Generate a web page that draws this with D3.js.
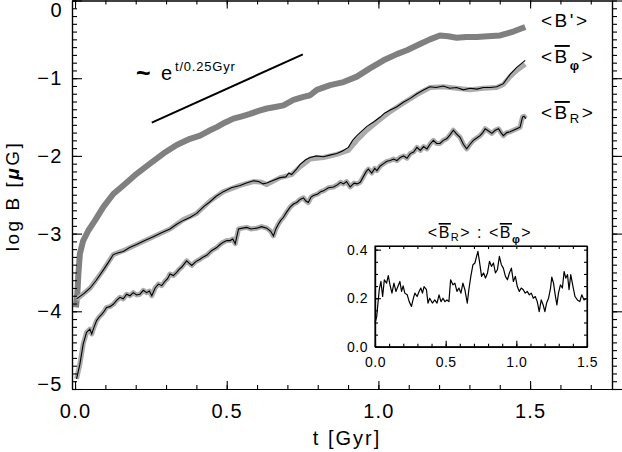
<!DOCTYPE html>
<html>
<head>
<meta charset="utf-8">
<script src="https://cdn.jsdelivr.net/npm/d3@7"></script>
<style>
  body { margin: 0; background: #fff; }
  text { font-family: "Liberation Sans", Arial, Helvetica, sans-serif; fill: #000; }
</style>
</head>
<body>
<svg id="chart" width="622" height="452"></svg>
<script>
// <B'> (thick grey curve)
const tPrime = [0.003,0.008,0.011,0.016,0.027,0.044,0.066,0.093,0.126,0.159,0.203,0.247,0.291,0.335,0.379,0.412,0.44,0.467,0.495,0.522,0.55,0.577,0.605,0.632,0.66,0.687,0.72,0.753,0.775,0.797,0.841,0.885,0.929,0.973,1.017,1.061,1.094,1.137,1.17,1.203,1.23,1.258,1.29,1.324,1.36,1.401,1.445,1.484];
const bPrime = [-3.95,-3.75,-3.52,-3.26,-3.09,-2.96,-2.83,-2.66,-2.49,-2.38,-2.23,-2.1,-1.97,-1.86,-1.78,-1.74,-1.68,-1.63,-1.57,-1.52,-1.49,-1.46,-1.42,-1.39,-1.37,-1.35,-1.28,-1.24,-1.22,-1.15,-1.09,-1.05,-0.98,-0.87,-0.77,-0.69,-0.64,-0.56,-0.5,-0.45,-0.46,-0.48,-0.47,-0.47,-0.46,-0.45,-0.4,-0.34];

// <B_phi> grey band and thin black line
const tPhiBand = [0.005,0.05,0.093,0.126,0.159,0.203,0.258,0.313,0.357,0.401,0.445,0.489,0.544,0.588,0.615,0.632,0.676,0.714,0.742,0.775,0.819,0.863,0.901,0.929,0.962,1.006,1.039,1.082,1.127,1.17,1.214,1.258,1.302,1.346,1.39,1.412,1.434,1.456,1.484];
const bPhiBand = [-3.85,-3.7,-3.47,-3.27,-3.22,-3.14,-3.04,-2.94,-2.82,-2.74,-2.58,-2.46,-2.38,-2.33,-2.34,-2.37,-2.28,-2.24,-2.14,-2.04,-2.02,-1.98,-1.93,-1.8,-1.67,-1.53,-1.43,-1.32,-1.21,-1.12,-1.11,-1.13,-1.15,-1.13,-1.12,-1.08,-0.98,-0.9,-0.82];
const tPhiLine = [0.005,0.03,0.05,0.07,0.093,0.11,0.126,0.14,0.159,0.18,0.203,0.23,0.258,0.285,0.313,0.335,0.357,0.38,0.401,0.425,0.445,0.465,0.489,0.515,0.544,0.565,0.588,0.605,0.62,0.632,0.65,0.676,0.695,0.705,0.714,0.73,0.742,0.76,0.775,0.795,0.819,0.84,0.863,0.88,0.901,0.915,0.929,0.945,0.962,0.985,1.006,1.02,1.039,1.06,1.082,1.105,1.127,1.15,1.17,1.19,1.214,1.235,1.258,1.28,1.302,1.325,1.346,1.37,1.39,1.412,1.434,1.456,1.484];
const bPhiLine = [-3.84,-3.77,-3.7,-3.6,-3.47,-3.37,-3.27,-3.25,-3.23,-3.18,-3.14,-3.09,-3.04,-2.99,-2.94,-2.88,-2.83,-2.79,-2.74,-2.65,-2.59,-2.52,-2.46,-2.41,-2.38,-2.35,-2.32,-2.33,-2.36,-2.35,-2.32,-2.28,-2.27,-2.22,-2.24,-2.17,-2.11,-2.05,-2.02,-2.0,-2.01,-1.99,-1.97,-1.94,-1.89,-1.8,-1.74,-1.68,-1.62,-1.56,-1.5,-1.45,-1.41,-1.37,-1.31,-1.26,-1.2,-1.15,-1.11,-1.12,-1.1,-1.13,-1.12,-1.15,-1.13,-1.14,-1.12,-1.12,-1.11,-1.07,-0.95,-0.86,-0.77];

// <B_R>
const tR = [0.005,0.016,0.027,0.038,0.049,0.055,0.063,0.071,0.08,0.088,0.096,0.104,0.115,0.126,0.137,0.148,0.159,0.17,0.181,0.192,0.203,0.214,0.225,0.236,0.245,0.253,0.264,0.275,0.286,0.297,0.305,0.313,0.324,0.335,0.343,0.352,0.36,0.368,0.376,0.385,0.398,0.412,0.423,0.434,0.45,0.467,0.478,0.489,0.5,0.511,0.52,0.528,0.539,0.552,0.566,0.58,0.599,0.615,0.632,0.645,0.654,0.662,0.67,0.678,0.687,0.698,0.709,0.72,0.731,0.742,0.753,0.761,0.769,0.778,0.786,0.8,0.81,0.819,0.835,0.852,0.866,0.875,0.885,0.895,0.907,0.92,0.93,0.94,0.95,0.96,0.967,0.978,0.988,0.995,1.006,1.017,1.028,1.039,1.05,1.061,1.072,1.083,1.094,1.105,1.116,1.127,1.138,1.149,1.16,1.17,1.181,1.192,1.203,1.214,1.225,1.236,1.247,1.258,1.269,1.28,1.291,1.302,1.313,1.324,1.335,1.344,1.352,1.363,1.374,1.385,1.396,1.404,1.412,1.423,1.434,1.445,1.456,1.467,1.475,1.48,1.486];
const bR = [-4.87,-4.68,-4.42,-4.27,-4.23,-4.29,-4.2,-4.12,-4.07,-4.04,-4.0,-3.95,-3.94,-3.91,-3.86,-3.82,-3.84,-3.78,-3.8,-3.76,-3.79,-3.78,-3.73,-3.76,-3.74,-3.8,-3.7,-3.65,-3.67,-3.61,-3.58,-3.52,-3.54,-3.5,-3.46,-3.43,-3.39,-3.35,-3.38,-3.41,-3.36,-3.33,-3.3,-3.28,-3.22,-3.18,-3.14,-3.11,-3.09,-3.09,-3.07,-3.13,-2.94,-2.93,-2.92,-2.94,-2.93,-2.91,-2.93,-2.97,-3.03,-2.94,-2.88,-2.83,-2.79,-2.72,-2.66,-2.62,-2.6,-2.56,-2.54,-2.58,-2.6,-2.53,-2.51,-2.49,-2.46,-2.45,-2.41,-2.4,-2.37,-2.34,-2.36,-2.33,-2.4,-2.35,-2.36,-2.34,-2.27,-2.2,-2.17,-2.22,-2.16,-2.19,-2.13,-2.1,-2.07,-2.06,-2.04,-2.06,-2.02,-2.0,-2.03,-1.97,-1.95,-1.89,-1.93,-1.88,-1.91,-1.85,-1.8,-1.84,-1.84,-1.8,-1.78,-1.73,-1.67,-1.72,-1.76,-1.85,-1.91,-1.85,-1.8,-1.77,-1.74,-1.7,-1.65,-1.68,-1.71,-1.67,-1.65,-1.7,-1.74,-1.7,-1.69,-1.67,-1.65,-1.63,-1.5,-1.49,-1.52];

// inset: <B_R> : <B_phi>
const tRatio = [0,0.012,0.03,0.042,0.054,0.066,0.082,0.094,0.106,0.12,0.134,0.148,0.162,0.176,0.188,0.199,0.211,0.228,0.242,0.258,0.27,0.282,0.298,0.312,0.324,0.336,0.347,0.364,0.375,0.387,0.406,0.423,0.439,0.453,0.467,0.481,0.495,0.509,0.523,0.535,0.551,0.565,0.58,0.594,0.608,0.622,0.636,0.653,0.664,0.678,0.693,0.707,0.716,0.728,0.739,0.754,0.768,0.782,0.796,0.81,0.824,0.838,0.852,0.866,0.88,0.894,0.908,0.923,0.937,0.951,0.965,0.979,0.993,1.007,1.021,1.035,1.049,1.063,1.077,1.092,1.106,1.12,1.134,1.148,1.162,1.176,1.19,1.202,1.214,1.228,1.242,1.251,1.263,1.275,1.287,1.298,1.312,1.326,1.338,1.35,1.362,1.373,1.385,1.401,1.415,1.432,1.449,1.463,1.479,1.491];
const ratio = [0.097,0.124,0.235,0.269,0.207,0.276,0.262,0.293,0.255,0.221,0.262,0.228,0.248,0.269,0.228,0.251,0.221,0.214,0.186,0.166,0.196,0.221,0.207,0.228,0.242,0.221,0.248,0.235,0.18,0.2,0.18,0.193,0.18,0.214,0.186,0.2,0.186,0.193,0.186,0.276,0.255,0.262,0.228,0.242,0.221,0.262,0.235,0.18,0.235,0.29,0.338,0.345,0.366,0.393,0.352,0.29,0.304,0.283,0.304,0.352,0.331,0.345,0.304,0.317,0.372,0.338,0.324,0.29,0.276,0.304,0.324,0.269,0.29,0.248,0.228,0.242,0.235,0.221,0.228,0.214,0.221,0.2,0.207,0.186,0.145,0.193,0.172,0.145,0.18,0.2,0.242,0.287,0.262,0.214,0.172,0.221,0.255,0.242,0.31,0.283,0.297,0.235,0.297,0.248,0.207,0.193,0.186,0.214,0.193,0.197];

// reference slope ~ e^(t/0.25Gyr)
const slopeT = [0.253, 0.751];
const slopeB = [-1.571, -0.694];

const xMajor = [0, 0.5, 1.0, 1.5];
const yMajor = [-5, -4, -3, -2, -1, 0];
const insetXMajor = [0, 0.5, 1.0, 1.5];
const insetYMajor = [0, 0.2, 0.4];

const svg = d3.select("#chart");
const x = d3.scaleLinear().domain([-0.01, 1.77]).range([72, 612]);
const y = d3.scaleLinear().domain([-5, 0]).range([389, 0.5]);

const pts = (ts, vs) => ts.map((t, i) => ({t: t, v: vs[i]}));
const line = d3.line().x(d => x(d.t)).y(d => y(d.v));

// curves
svg.append("path").datum(pts(tPrime, bPrime)).attr("d", line)
    .attr("fill", "none").attr("stroke", "#808080").attr("stroke-width", 6)
    .attr("stroke-linejoin", "round").attr("stroke-linecap", "butt");

svg.append("path").datum(pts(tPhiBand, bPhiBand)).attr("d", line)
    .attr("fill", "none").attr("stroke", "#ababab").attr("stroke-width", 5)
    .attr("stroke-linejoin", "round");
svg.append("path").datum(pts(tPhiLine, bPhiLine)).attr("d", line)
    .attr("fill", "none").attr("stroke", "#000").attr("stroke-width", 1.1);

svg.append("path").datum(pts(tR, bR)).attr("d", line)
    .attr("fill", "none").attr("stroke", "#ababab").attr("stroke-width", 5)
    .attr("stroke-linejoin", "round");
svg.append("path").datum(pts(tR, bR)).attr("d", line)
    .attr("fill", "none").attr("stroke", "#000").attr("stroke-width", 1.1);

// slope line and its label
svg.append("path").datum(pts(slopeT, slopeB)).attr("d", line)
    .attr("fill", "none").attr("stroke", "#000").attr("stroke-width", 2);
svg.append("text").attr("x", 136).attr("y", 82).attr("font-size", 25)
    .attr("font-weight", "bold").text("~");
svg.append("text").attr("x", 161).attr("y", 80).attr("font-size", 20).text("e");
svg.append("text").attr("x", 175).attr("y", 71).attr("font-size", 13)
    .attr("letter-spacing", 0.8).text("t/0.25Gyr");

// main axes
function styleAxis(g) {
  g.selectAll("path.domain").attr("stroke", "#000").attr("stroke-width", 1.2);
  g.selectAll(".tick line").attr("stroke", "#000").attr("stroke-width", 1.1);
  g.selectAll("text").attr("font-family", null);
}
const xMinor = d3.range(0, 1.75, 0.1);
const yMinor = d3.range(-5, 0.01, 0.1);

const gx = svg.append("g").attr("transform", "translate(0,389)")
    .call(d3.axisBottom(x).tickValues(xMajor).tickSize(-8).tickSizeOuter(0)
      .tickPadding(15).tickFormat(d3.format(".1f")));
gx.selectAll("text").attr("font-size", 20).attr("letter-spacing", 1.2);
styleAxis(gx);
svg.append("g").attr("transform", "translate(0,389)")
    .call(d3.axisBottom(x).tickValues(xMinor).tickSize(-4).tickSizeOuter(0).tickFormat(""))
    .call(styleAxis);

const gt = svg.append("g").attr("transform", "translate(0,0.5)")
    .call(d3.axisTop(x).tickValues(xMajor).tickSize(-8).tickSizeOuter(0).tickFormat(""));
styleAxis(gt);
svg.append("g").attr("transform", "translate(0,0.5)")
    .call(d3.axisTop(x).tickValues(xMinor).tickSize(-4).tickSizeOuter(0).tickFormat(""))
    .call(styleAxis);

const gy = svg.append("g").attr("transform", "translate(72,0)")
    .call(d3.axisLeft(y).tickValues(yMajor).tickSize(-10).tickSizeOuter(0)
      .tickPadding(9).tickFormat(d3.format("d")));
gy.selectAll("text").attr("font-size", 20).attr("letter-spacing", 1.5)
    .attr("dy", d => d === 0 ? "0.82em" : (d === -5 ? "0.05em" : "0.32em"));
styleAxis(gy);
svg.append("g").attr("transform", "translate(72,0)")
    .call(d3.axisLeft(y).tickValues(yMinor).tickSize(-5).tickSizeOuter(0).tickFormat(""))
    .call(styleAxis);

svg.append("g").attr("transform", "translate(612,0)")
    .call(d3.axisRight(y).tickValues(yMajor).tickSize(10).tickSizeOuter(0).tickFormat(""))
    .call(styleAxis);
svg.append("g").attr("transform", "translate(612,0)")
    .call(d3.axisRight(y).tickValues(yMinor).tickSize(5).tickSizeOuter(0).tickFormat(""))
    .call(styleAxis);

// axis titles
svg.append("text").attr("x", 347).attr("y", 445).attr("text-anchor", "middle")
    .attr("font-size", 20).attr("letter-spacing", 2).text("t [Gyr]");
const yl = svg.append("text").attr("transform", "translate(19,196) rotate(-90)")
    .attr("text-anchor", "middle").attr("font-size", 19).attr("letter-spacing", 2.5);
yl.append("tspan").text("log B [");
yl.append("tspan").attr("font-style", "italic").attr("font-weight", "bold").text("μ");
yl.append("tspan").text("G]");

// legend labels
const leg = svg.append("g").attr("font-size", 19).attr("letter-spacing", 2.5);
leg.append("text").attr("x", 541).attr("y", 27).text("<B'>");
function barLabel(g, px, py, sub, bold, subFs, subDy) {
  const t = g.append("text").attr("x", px).attr("y", py);
  t.append("tspan").text("<");
  t.append("tspan").attr("text-decoration", "overline").text("B");
  t.append("tspan").attr("font-size", subFs).attr("dy", subDy)
      .attr("font-weight", bold ? "bold" : null).text(sub);
  t.append("tspan").attr("dy", -subDy).text(">");
  return t;
}
barLabel(leg, 541, 63, "φ", true, 13, 7);
barLabel(leg, 541, 119, "R", false, 13, 4);

// inset
const ix = d3.scaleLinear().domain([0, 1.5]).range([375, 587]);
const iy = d3.scaleLinear().domain([0, 0.415]).range([346.8, 246]);
const ins = svg.append("g");
ins.append("rect").attr("x", 375).attr("y", 246).attr("width", 212).attr("height", 100.8)
    .attr("fill", "#fff").attr("stroke", "#000").attr("stroke-width", 1.1);
ins.append("path").datum(tRatio.map((t, i) => ({t: t, v: ratio[i]})))
    .attr("d", d3.line().x(d => ix(d.t)).y(d => iy(d.v)))
    .attr("fill", "none").attr("stroke", "#000").attr("stroke-width", 1.2)
    .attr("stroke-linejoin", "round");

const ixMinor = d3.range(0, 1.51, 0.1);
const iyMinor = d3.range(0, 0.41, 0.05);
const gix = ins.append("g").attr("transform", "translate(0,346.8)")
    .call(d3.axisBottom(ix).tickValues(insetXMajor).tickSize(-6).tickSizeOuter(0)
      .tickPadding(10).tickFormat(d3.format(".1f")));
gix.selectAll("text").attr("font-size", 14).attr("letter-spacing", 0.5);
styleAxis(gix);
ins.append("g").attr("transform", "translate(0,346.8)")
    .call(d3.axisBottom(ix).tickValues(ixMinor).tickSize(-3).tickSizeOuter(0).tickFormat(""))
    .call(styleAxis);
ins.append("g").attr("transform", "translate(0,246)")
    .call(d3.axisTop(ix).tickValues(ixMinor).tickSize(-3).tickSizeOuter(0).tickFormat(""))
    .call(styleAxis);
const giy = ins.append("g").attr("transform", "translate(375,0)")
    .call(d3.axisLeft(iy).tickValues(insetYMajor).tickSize(-6).tickSizeOuter(0)
      .tickPadding(7).tickFormat(d3.format(".1f")));
giy.selectAll("text").attr("font-size", 14).attr("letter-spacing", 0.5);
styleAxis(giy);
ins.append("g").attr("transform", "translate(375,0)")
    .call(d3.axisLeft(iy).tickValues(iyMinor).tickSize(-3).tickSizeOuter(0).tickFormat(""))
    .call(styleAxis);
ins.append("g").attr("transform", "translate(587,0)")
    .call(d3.axisRight(iy).tickValues(iyMinor).tickSize(-3).tickSizeOuter(0).tickFormat(""))
    .call(styleAxis);

const it = ins.append("g").attr("font-size", 16).attr("letter-spacing", 1.5);
const title = it.append("text").attr("x", 480).attr("y", 238).attr("text-anchor", "middle");
title.append("tspan").text("<");
title.append("tspan").attr("text-decoration", "overline").text("B");
title.append("tspan").attr("font-size", 11).attr("dy", 3).text("R");
title.append("tspan").attr("dy", -3).text("> : <");
title.append("tspan").attr("text-decoration", "overline").text("B");
title.append("tspan").attr("font-size", 11).attr("font-weight", "bold").attr("dy", 5).text("φ");
title.append("tspan").attr("dy", -5).text(">");
</script>
</body>
</html>
